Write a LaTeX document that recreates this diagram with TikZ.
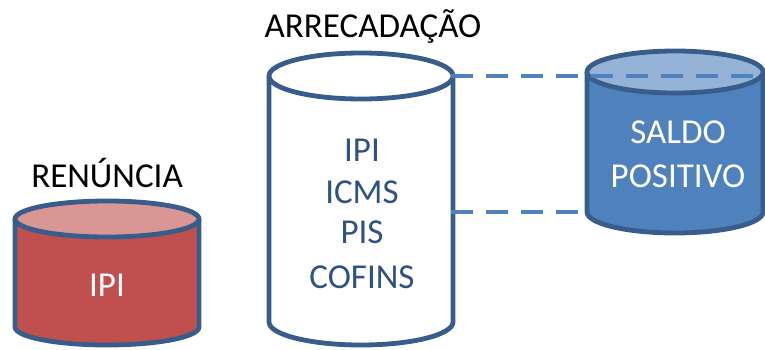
\documentclass[tikz,border=0pt]{standalone}
\usepackage{fontspec}
\setmainfont{Carlito}
\definecolor{outl}{HTML}{385D8A}
\definecolor{redbody}{HTML}{C0504D}
\definecolor{redtop}{HTML}{D99694}
\definecolor{bluebody}{HTML}{4F81BD}
\definecolor{bluetop}{HTML}{95B3D7}
\definecolor{dashc}{HTML}{4F81BD}
\definecolor{txtblue}{HTML}{2F5283}
\tikzset{
  cyl/.style={draw=outl, line width=4.8pt, line join=round},
  lbl/.style={font=\fontsize{35}{35}\selectfont, anchor=base, inner sep=0pt},
  conn/.style={draw=dashc, line width=4.8pt, dash pattern=on 22pt off 13pt},
}
% \mycyl{cx}{topY}{botY}{rx}{ry}{bodycolor}{topcolor}
\newcommand{\mycyl}[7]{%
  \fill[#6] (#1-#4,#2) -- (#1-#4,#3) arc[start angle=180,end angle=360,x radius=#4,y radius=#5] -- (#1+#4,#2) -- cycle;
  \draw[cyl] (#1-#4,#2) -- (#1-#4,#3) arc[start angle=180,end angle=360,x radius=#4,y radius=#5] -- (#1+#4,#2);
  \draw[cyl, fill=#7] (#1,#2) ellipse[x radius=#4,y radius=#5];
}
\begin{document}
\begin{tikzpicture}[x=1pt,y=1pt]
\useasboundingbox (0,0) rectangle (765,349);
% left cylinder
\mycyl{107}{130}{22}{92}{18}{redbody}{redtop}
% middle cylinder
\mycyl{361}{273}{27}{92}{23}{white}{white}
% right cylinder
\mycyl{675}{277}{137}{88}{21}{bluebody}{bluetop}
% connector coordinates
\coordinate (mt) at (451,273);
\coordinate (mb) at (451,137);
\coordinate (rt) at (765,273);
\coordinate (rb) at (587,137);
\draw[conn] (mt) -- (rt);
\draw[conn] (mb) -- (rb);
% labels
\node[lbl] (ren) at (107,162) {RENÚNCIA};
\node[lbl] (arr) at (373,312) {ARRECADAÇÃO};
\node[lbl, text=white] (ipil) at (107,53) {IPI};
\node[lbl, text=txtblue] (ipim) at (362,188) {IPI};
\node[lbl, text=txtblue] (icms) at (362,146) {ICMS};
\node[lbl, text=txtblue] (pis) at (362,106) {PIS};
\node[lbl, text=txtblue] (cof) at (362,61) {COFINS};
\node[lbl, text=white] (sal) at (678,206) {SALDO};
\node[lbl, text=white] (pos) at (678,162) {POSITIVO};
\end{tikzpicture}
\end{document}
